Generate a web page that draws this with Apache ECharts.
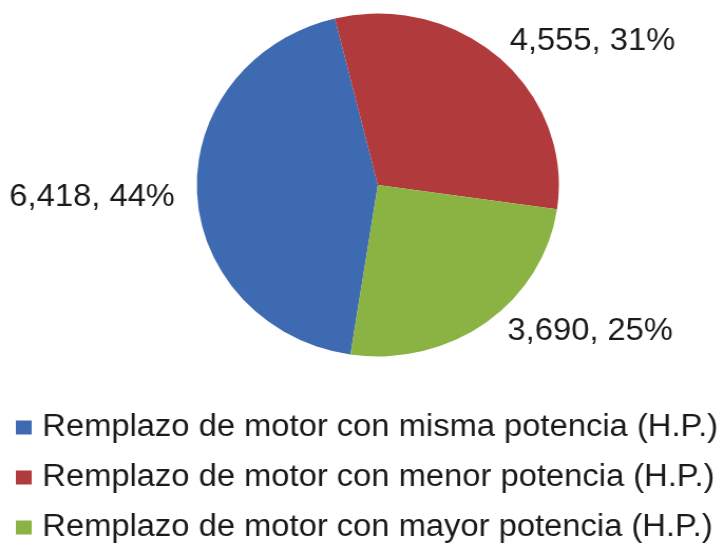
<!DOCTYPE html>
<html>
<head>
<meta charset="utf-8">
<script src="https://cdn.jsdelivr.net/npm/echarts@6/dist/echarts.min.js"></script>
<style>
  html, body { margin: 0; padding: 0; background: #ffffff; overflow: hidden; }
  #wrap { width: 725px; height: 544px; overflow: hidden; }
  #chart { width: 687px; height: 544px; transform: scaleX(1.0554); transform-origin: 0 0; }
</style>
</head>
<body>
<div id="wrap"><div id="chart"></div></div>
<script>
const categories = [
  'Remplazo de motor con misma potencia (H.P.)',
  'Remplazo de motor con menor potencia (H.P.)',
  'Remplazo de motor con mayor potencia (H.P.)'
];
const values = [6418, 4555, 3690];
const colors = ['#3e6ab1', '#b13a3c', '#8ab343'];
const lineLen = [21, 22, 11];
const lineLen2 = [0, -5, 14];

const total = values.reduce((a, b) => a + b, 0);
const fmt = v => v.toLocaleString('en-US');

const chart = echarts.init(document.getElementById('chart'));
chart.setOption({
  backgroundColor: '#ffffff',
  animation: false,
  legend: {
    orient: 'vertical',
    left: 15,
    top: 412,
    padding: 0,
    itemWidth: 15,
    itemHeight: 14,
    itemGap: 19,
    icon: 'rect',
    textStyle: {
      fontFamily: 'Liberation Sans, Arial, sans-serif',
      fontSize: 31, lineHeight: 31, color: '#1a1a1a',
      padding: [0, 0, 0, 5]
    },
    data: categories
  },
  series: [{
    type: 'pie',
    center: [358, 185],
    radius: [0, 171.5],
    startAngle: -98.7,
    clockwise: true,
    avoidLabelOverlap: false,
    itemStyle: { borderWidth: 0 },
    label: {
      show: true,
      position: 'outside',
      distanceToLabelLine: 0,
      fontFamily: 'Liberation Sans, Arial, sans-serif',
      fontSize: 31,
      color: '#1a1a1a',
      formatter: p => fmt(p.value) + ', ' + Math.round(p.value / total * 100) + '%'
    },
    labelLine: { show: false },
    labelLayout: p => (p.dataIndex === 0 ? { dy: 4 } : {}),
    emphasis: { disabled: true },
    data: categories.map((c, i) => ({
      name: c,
      value: values[i],
      itemStyle: { color: colors[i] },
      labelLine: { show: false, length: lineLen[i], length2: lineLen2[i] }
    }))
  }]
});
</script>
</body>
</html>
